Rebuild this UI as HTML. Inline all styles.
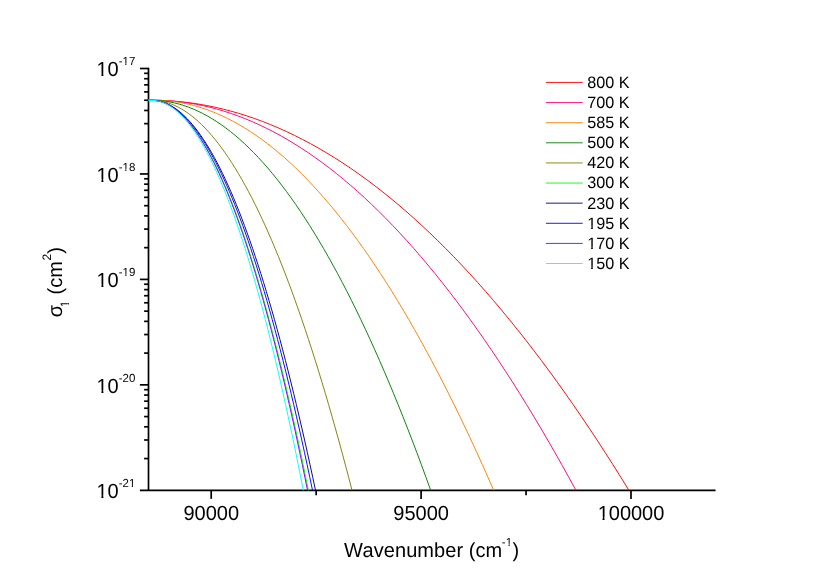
<!DOCTYPE html>
<html><head><meta charset="utf-8"><title>chart</title>
<style>
html,body{margin:0;padding:0;background:#fff;}
svg{display:block;font-family:"Liberation Sans",sans-serif;will-change:transform;}
text{text-rendering:geometricPrecision;font-kerning:none;}
</style></head><body>
<svg width="830" height="588" viewBox="0 0 830 588">
<rect width="830" height="588" fill="#fff"/>
<g fill="#000">
<text transform="translate(183.39,519.50) scale(1,1.02)" font-size="20">90000</text>
<text transform="translate(393.29,519.50) scale(1,1.02)" font-size="20">95000</text>
<text transform="translate(597.63,519.50) scale(1,1.02)" font-size="20">100000</text>
<text transform="translate(96.50,76.30) scale(1,1.02)" font-size="20">10</text>
<text transform="translate(118.65,65.40) scale(1,1.02)" font-size="11.5">-17</text>
<text transform="translate(96.50,181.75) scale(1,1.02)" font-size="20">10</text>
<text transform="translate(118.65,170.85) scale(1,1.02)" font-size="11.5">-18</text>
<text transform="translate(96.50,287.20) scale(1,1.02)" font-size="20">10</text>
<text transform="translate(118.65,276.30) scale(1,1.02)" font-size="11.5">-19</text>
<text transform="translate(96.50,392.65) scale(1,1.02)" font-size="20">10</text>
<text transform="translate(118.65,381.75) scale(1,1.02)" font-size="11.5">-20</text>
<text transform="translate(96.50,498.10) scale(1,1.02)" font-size="20">10</text>
<text transform="translate(118.65,487.20) scale(1,1.02)" font-size="11.5">-21</text>
<text transform="translate(344.10,556.70) scale(1,1.02)" font-size="20">W</text>
<text transform="translate(362.54,556.70) scale(1,1.02)" font-size="20" letter-spacing="0.06">avenumber (cm</text>
<text transform="translate(501.85,545.50) scale(1,1.02)" font-size="11.5">-1</text>
<text transform="translate(512.38,556.70) scale(1,1.02)" font-size="20">)</text>
<text transform="translate(587.20,87.85) scale(1,1.02)" font-size="16.2">800 K</text>
<text transform="translate(587.20,107.97) scale(1,1.02)" font-size="16.2">700 K</text>
<text transform="translate(587.20,128.09) scale(1,1.02)" font-size="16.2">585 K</text>
<text transform="translate(587.20,148.21) scale(1,1.02)" font-size="16.2">500 K</text>
<text transform="translate(587.20,168.33) scale(1,1.02)" font-size="16.2">420 K</text>
<text transform="translate(587.20,188.45) scale(1,1.02)" font-size="16.2">300 K</text>
<text transform="translate(587.20,208.57) scale(1,1.02)" font-size="16.2">230 K</text>
<text transform="translate(587.20,228.69) scale(1,1.02)" font-size="16.2">195 K</text>
<text transform="translate(587.20,248.81) scale(1,1.02)" font-size="16.2">170 K</text>
<text transform="translate(587.20,268.93) scale(1,1.02)" font-size="16.2">150 K</text>
</g>
<g fill="#fff">
<rect x="598.55" y="516.78" width="3.99" height="3.52"/>
<rect x="604.55" y="516.78" width="3.83" height="3.52"/>
<rect x="97.42" y="73.58" width="3.99" height="3.52"/>
<rect x="103.42" y="73.58" width="3.83" height="3.52"/>
<rect x="122.75" y="63.32" width="2.50" height="2.88"/>
<rect x="126.50" y="63.32" width="2.41" height="2.88"/>
<rect x="97.42" y="179.03" width="3.99" height="3.52"/>
<rect x="103.42" y="179.03" width="3.83" height="3.52"/>
<rect x="122.75" y="168.77" width="2.50" height="2.88"/>
<rect x="126.50" y="168.77" width="2.41" height="2.88"/>
<rect x="97.42" y="284.48" width="3.99" height="3.52"/>
<rect x="103.42" y="284.48" width="3.83" height="3.52"/>
<rect x="122.75" y="274.22" width="2.50" height="2.88"/>
<rect x="126.50" y="274.22" width="2.41" height="2.88"/>
<rect x="97.42" y="389.93" width="3.99" height="3.52"/>
<rect x="103.42" y="389.93" width="3.83" height="3.52"/>
<rect x="97.42" y="495.38" width="3.99" height="3.52"/>
<rect x="103.42" y="495.38" width="3.83" height="3.52"/>
<rect x="129.15" y="485.12" width="2.50" height="2.88"/>
<rect x="132.90" y="485.12" width="2.41" height="2.88"/>
<rect x="505.96" y="543.42" width="2.50" height="2.88"/>
<rect x="509.71" y="543.42" width="2.41" height="2.88"/>
<rect x="587.83" y="226.26" width="3.32" height="3.23"/>
<rect x="592.83" y="226.26" width="3.19" height="3.23"/>
<rect x="587.83" y="246.38" width="3.32" height="3.23"/>
<rect x="592.83" y="246.38" width="3.19" height="3.23"/>
<rect x="587.83" y="266.50" width="3.32" height="3.23"/>
<rect x="592.83" y="266.50" width="3.19" height="3.23"/>
</g>
<g transform="translate(62.4,317.2) rotate(-90)">
<g fill="#000">
<text transform="translate(0.00,0.00) scale(1,1.02)" font-size="20">σ</text>
<text transform="translate(9.84,6.80) scale(1,1.02)" font-size="12">1</text>
<text transform="translate(22.77,0.00) scale(1,1.02)" font-size="20">(cm</text>
<text transform="translate(56.69,-11.80) scale(1,1.02)" font-size="12">2</text>
<text transform="translate(63.37,0.00) scale(1,1.02)" font-size="20">)</text>
</g>
<g fill="#fff">
<rect x="10.16" y="4.69" width="2.58" height="2.91"/>
<rect x="14.04" y="4.69" width="2.49" height="2.91"/>
</g>
</g>
<g stroke="#000" stroke-width="1.7" fill="none" stroke-linecap="butt">
<path d="M148.50,67.70 V490.30"/>
<path d="M139.90,490.30 H715.56"/>
<path d="M139.90,68.50 H148.50"/>
<path d="M144.10,142.21 H148.50"/>
<path d="M144.10,123.64 H148.50"/>
<path d="M144.10,110.46 H148.50"/>
<path d="M144.10,100.24 H148.50"/>
<path d="M144.10,91.89 H148.50"/>
<path d="M144.10,84.83 H148.50"/>
<path d="M144.10,78.72 H148.50"/>
<path d="M144.10,73.33 H148.50"/>
<path d="M139.90,173.95 H148.50"/>
<path d="M144.10,247.66 H148.50"/>
<path d="M144.10,229.09 H148.50"/>
<path d="M144.10,215.91 H148.50"/>
<path d="M144.10,205.69 H148.50"/>
<path d="M144.10,197.34 H148.50"/>
<path d="M144.10,190.28 H148.50"/>
<path d="M144.10,184.17 H148.50"/>
<path d="M144.10,178.78 H148.50"/>
<path d="M139.90,279.40 H148.50"/>
<path d="M144.10,353.11 H148.50"/>
<path d="M144.10,334.54 H148.50"/>
<path d="M144.10,321.36 H148.50"/>
<path d="M144.10,311.14 H148.50"/>
<path d="M144.10,302.79 H148.50"/>
<path d="M144.10,295.73 H148.50"/>
<path d="M144.10,289.62 H148.50"/>
<path d="M144.10,284.23 H148.50"/>
<path d="M139.90,384.85 H148.50"/>
<path d="M144.10,458.56 H148.50"/>
<path d="M144.10,439.99 H148.50"/>
<path d="M144.10,426.81 H148.50"/>
<path d="M144.10,416.59 H148.50"/>
<path d="M144.10,408.24 H148.50"/>
<path d="M144.10,401.18 H148.50"/>
<path d="M144.10,395.07 H148.50"/>
<path d="M144.10,389.68 H148.50"/>
<path d="M211.20,490.30 V498.90"/>
<path d="M421.10,490.30 V498.90"/>
<path d="M631.00,490.30 V498.90"/>
<path d="M316.15,490.30 V495.30"/>
<path d="M526.05,490.30 V495.30"/>
</g>
<g fill="none" stroke-width="0.95" stroke-linejoin="round">
<path d="M148.50,100.24 L151.10,100.24 L159.06,100.35 L167.03,100.68 L174.99,101.22 L182.95,101.98 L190.92,102.95 L198.88,104.14 L206.84,105.55 L214.81,107.18 L222.77,109.02 L230.73,111.08 L238.70,113.35 L246.66,115.85 L254.62,118.55 L262.59,121.48 L270.55,124.62 L278.51,127.98 L286.48,131.56 L294.44,135.35 L302.40,139.36 L310.37,143.58 L318.33,148.03 L326.29,152.68 L334.26,157.56 L342.22,162.65 L350.18,167.96 L358.15,173.49 L366.11,179.23 L374.07,185.19 L382.04,191.37 L390.00,197.76 L397.96,204.37 L405.93,211.19 L413.89,218.24 L421.85,225.50 L429.82,232.97 L437.78,240.66 L445.74,248.57 L453.71,256.70 L461.67,265.04 L469.63,273.60 L477.60,282.38 L485.56,291.37 L493.52,300.58 L501.49,310.01 L509.45,319.65 L517.41,329.51 L525.38,339.59 L533.34,349.88 L541.30,360.39 L549.27,371.12 L557.23,382.06 L565.19,393.22 L573.16,404.60 L581.12,416.19 L589.08,428.00 L597.05,440.03 L605.01,452.27 L612.97,464.73 L620.94,477.41 L628.90,490.30" stroke="#ff0000"/>
<path d="M148.50,100.24 L153.20,100.24 L160.24,100.35 L167.29,100.68 L174.33,101.22 L181.38,101.98 L188.42,102.95 L195.47,104.14 L202.51,105.55 L209.56,107.18 L216.60,109.02 L223.65,111.08 L230.69,113.35 L237.74,115.85 L244.78,118.55 L251.83,121.48 L258.88,124.62 L265.92,127.98 L272.96,131.56 L280.01,135.35 L287.05,139.36 L294.10,143.58 L301.14,148.03 L308.19,152.68 L315.24,157.56 L322.28,162.65 L329.32,167.96 L336.37,173.49 L343.41,179.23 L350.46,185.19 L357.50,191.37 L364.55,197.76 L371.59,204.37 L378.64,211.19 L385.69,218.24 L392.73,225.50 L399.77,232.97 L406.82,240.66 L413.87,248.57 L420.91,256.70 L427.95,265.04 L435.00,273.60 L442.05,282.38 L449.09,291.37 L456.13,300.58 L463.18,310.01 L470.22,319.65 L477.27,329.51 L484.31,339.59 L491.36,349.88 L498.40,360.39 L505.45,371.12 L512.50,382.06 L519.54,393.22 L526.59,404.60 L533.63,416.19 L540.67,428.00 L547.72,440.03 L554.76,452.27 L561.81,464.73 L568.86,477.41 L575.90,490.30" stroke="#ff0080"/>
<path d="M148.50,100.24 L154.20,100.24 L159.86,100.35 L165.52,100.68 L171.17,101.22 L176.83,101.98 L182.49,102.95 L188.15,104.14 L193.81,105.55 L199.47,107.18 L205.12,109.02 L210.78,111.08 L216.44,113.35 L222.10,115.85 L227.76,118.55 L233.42,121.48 L239.07,124.62 L244.73,127.98 L250.39,131.56 L256.05,135.35 L261.71,139.36 L267.37,143.58 L273.02,148.03 L278.68,152.68 L284.34,157.56 L290.00,162.65 L295.66,167.96 L301.32,173.49 L306.98,179.23 L312.63,185.19 L318.29,191.37 L323.95,197.76 L329.61,204.37 L335.27,211.19 L340.92,218.24 L346.58,225.50 L352.24,232.97 L357.90,240.66 L363.56,248.57 L369.22,256.70 L374.88,265.04 L380.53,273.60 L386.19,282.38 L391.85,291.37 L397.51,300.58 L403.17,310.01 L408.82,319.65 L414.48,329.51 L420.14,339.59 L425.80,349.88 L431.46,360.39 L437.12,371.12 L442.77,382.06 L448.43,393.22 L454.09,404.60 L459.75,416.19 L465.41,428.00 L471.07,440.03 L476.72,452.27 L482.38,464.73 L488.04,477.41 L493.70,490.30" stroke="#ff8000"/>
<path d="M148.50,100.24 L151.30,100.24 L155.96,100.35 L160.61,100.68 L165.27,101.22 L169.93,101.98 L174.58,102.95 L179.24,104.14 L183.90,105.55 L188.55,107.18 L193.21,109.02 L197.87,111.08 L202.52,113.35 L207.18,115.85 L211.84,118.55 L216.49,121.48 L221.15,124.62 L225.81,127.98 L230.46,131.56 L235.12,135.35 L239.78,139.36 L244.43,143.58 L249.09,148.03 L253.75,152.68 L258.40,157.56 L263.06,162.65 L267.72,167.96 L272.37,173.49 L277.03,179.23 L281.69,185.19 L286.34,191.37 L291.00,197.76 L295.66,204.37 L300.31,211.19 L304.97,218.24 L309.63,225.50 L314.28,232.97 L318.94,240.66 L323.60,248.57 L328.25,256.70 L332.91,265.04 L337.57,273.60 L342.22,282.38 L346.88,291.37 L351.54,300.58 L356.19,310.01 L360.85,319.65 L365.51,329.51 L370.16,339.59 L374.82,349.88 L379.48,360.39 L384.13,371.12 L388.79,382.06 L393.45,393.22 L398.10,404.60 L402.76,416.19 L407.42,428.00 L412.07,440.03 L416.73,452.27 L421.39,464.73 L426.04,477.41 L430.70,490.30" stroke="#008000"/>
<path d="M148.50,100.24 L151.50,100.24 L154.84,100.35 L158.18,100.68 L161.53,101.22 L164.87,101.98 L168.21,102.95 L171.55,104.14 L174.89,105.55 L178.23,107.18 L181.57,109.02 L184.92,111.08 L188.26,113.35 L191.60,115.85 L194.94,118.55 L198.28,121.48 L201.62,124.62 L204.97,127.98 L208.31,131.56 L211.65,135.35 L214.99,139.36 L218.33,143.58 L221.68,148.03 L225.02,152.68 L228.36,157.56 L231.70,162.65 L235.04,167.96 L238.38,173.49 L241.72,179.23 L245.07,185.19 L248.41,191.37 L251.75,197.76 L255.09,204.37 L258.43,211.19 L261.77,218.24 L265.12,225.50 L268.46,232.97 L271.80,240.66 L275.14,248.57 L278.48,256.70 L281.82,265.04 L285.17,273.60 L288.51,282.38 L291.85,291.37 L295.19,300.58 L298.53,310.01 L301.88,319.65 L305.22,329.51 L308.56,339.59 L311.90,349.88 L315.24,360.39 L318.58,371.12 L321.93,382.06 L325.27,393.22 L328.61,404.60 L331.95,416.19 L335.29,428.00 L338.63,440.03 L341.98,452.27 L345.32,464.73 L348.66,477.41 L352.00,490.30" stroke="#808000"/>
<path d="M148.50,100.24 L151.50,100.24 L154.12,100.35 L156.73,100.68 L159.34,101.22 L161.96,101.98 L164.57,102.95 L167.19,104.14 L169.81,105.55 L172.42,107.18 L175.03,109.02 L177.65,111.08 L180.26,113.35 L182.88,115.85 L185.50,118.55 L188.11,121.48 L190.72,124.62 L193.34,127.98 L195.95,131.56 L198.57,135.35 L201.19,139.36 L203.80,143.58 L206.41,148.03 L209.03,152.68 L211.64,157.56 L214.26,162.65 L216.88,167.96 L219.49,173.49 L222.10,179.23 L224.72,185.19 L227.33,191.37 L229.95,197.76 L232.56,204.37 L235.18,211.19 L237.79,218.24 L240.41,225.50 L243.02,232.97 L245.64,240.66 L248.25,248.57 L250.87,256.70 L253.48,265.04 L256.10,273.60 L258.71,282.38 L261.33,291.37 L263.94,300.58 L266.56,310.01 L269.17,319.65 L271.79,329.51 L274.40,339.59 L277.02,349.88 L279.63,360.39 L282.25,371.12 L284.87,382.06 L287.48,393.22 L290.09,404.60 L292.71,416.19 L295.32,428.00 L297.94,440.03 L300.55,452.27 L303.17,464.73 L305.78,477.41 L308.40,490.30" stroke="#00ff00"/>
<path d="M148.50,100.24 L151.50,100.24 L154.23,100.35 L156.97,100.68 L159.70,101.22 L162.43,101.98 L165.17,102.95 L167.90,104.14 L170.63,105.55 L173.37,107.18 L176.10,109.02 L178.83,111.08 L181.57,113.35 L184.30,115.85 L187.03,118.55 L189.77,121.48 L192.50,124.62 L195.23,127.98 L197.97,131.56 L200.70,135.35 L203.43,139.36 L206.17,143.58 L208.90,148.03 L211.63,152.68 L214.37,157.56 L217.10,162.65 L219.83,167.96 L222.57,173.49 L225.30,179.23 L228.03,185.19 L230.77,191.37 L233.50,197.76 L236.23,204.37 L238.97,211.19 L241.70,218.24 L244.43,225.50 L247.17,232.97 L249.90,240.66 L252.63,248.57 L255.37,256.70 L258.10,265.04 L260.83,273.60 L263.57,282.38 L266.30,291.37 L269.03,300.58 L271.77,310.01 L274.50,319.65 L277.23,329.51 L279.97,339.59 L282.70,349.88 L285.43,360.39 L288.17,371.12 L290.90,382.06 L293.63,393.22 L296.37,404.60 L299.10,416.19 L301.83,428.00 L304.57,440.03 L307.30,452.27 L310.03,464.73 L312.77,477.41 L315.50,490.30" stroke="#000080"/>
<path d="M148.50,100.24 L151.50,100.24 L154.18,100.35 L156.87,100.68 L159.55,101.22 L162.23,101.98 L164.92,102.95 L167.60,104.14 L170.28,105.55 L172.97,107.18 L175.65,109.02 L178.33,111.08 L181.02,113.35 L183.70,115.85 L186.38,118.55 L189.07,121.48 L191.75,124.62 L194.43,127.98 L197.12,131.56 L199.80,135.35 L202.48,139.36 L205.17,143.58 L207.85,148.03 L210.53,152.68 L213.22,157.56 L215.90,162.65 L218.58,167.96 L221.27,173.49 L223.95,179.23 L226.63,185.19 L229.32,191.37 L232.00,197.76 L234.68,204.37 L237.37,211.19 L240.05,218.24 L242.73,225.50 L245.42,232.97 L248.10,240.66 L250.78,248.57 L253.47,256.70 L256.15,265.04 L258.83,273.60 L261.52,282.38 L264.20,291.37 L266.88,300.58 L269.57,310.01 L272.25,319.65 L274.93,329.51 L277.62,339.59 L280.30,349.88 L282.98,360.39 L285.67,371.12 L288.35,382.06 L291.03,393.22 L293.72,404.60 L296.40,416.19 L299.08,428.00 L301.77,440.03 L304.45,452.27 L307.13,464.73 L309.82,477.41 L312.50,490.30" stroke="#0000ff"/>
<path d="M148.50,100.24 L151.50,100.24 L154.10,100.35 L156.70,100.68 L159.30,101.22 L161.90,101.98 L164.50,102.95 L167.10,104.14 L169.70,105.55 L172.30,107.18 L174.90,109.02 L177.50,111.08 L180.10,113.35 L182.70,115.85 L185.30,118.55 L187.90,121.48 L190.50,124.62 L193.10,127.98 L195.70,131.56 L198.30,135.35 L200.90,139.36 L203.50,143.58 L206.10,148.03 L208.70,152.68 L211.30,157.56 L213.90,162.65 L216.50,167.96 L219.10,173.49 L221.70,179.23 L224.30,185.19 L226.90,191.37 L229.50,197.76 L232.10,204.37 L234.70,211.19 L237.30,218.24 L239.90,225.50 L242.50,232.97 L245.10,240.66 L247.70,248.57 L250.30,256.70 L252.90,265.04 L255.50,273.60 L258.10,282.38 L260.70,291.37 L263.30,300.58 L265.90,310.01 L268.50,319.65 L271.10,329.51 L273.70,339.59 L276.30,349.88 L278.90,360.39 L281.50,371.12 L284.10,382.06 L286.70,393.22 L289.30,404.60 L291.90,416.19 L294.50,428.00 L297.10,440.03 L299.70,452.27 L302.30,464.73 L304.90,477.41 L307.50,490.30" stroke="#8000ff"/>
<path d="M148.50,100.24 L151.50,100.24 L154.03,100.35 L156.56,100.68 L159.09,101.22 L161.62,101.98 L164.15,102.95 L166.68,104.14 L169.21,105.55 L171.74,107.18 L174.27,109.02 L176.80,111.08 L179.33,113.35 L181.86,115.85 L184.39,118.55 L186.92,121.48 L189.45,124.62 L191.98,127.98 L194.51,131.56 L197.04,135.35 L199.57,139.36 L202.10,143.58 L204.63,148.03 L207.16,152.68 L209.69,157.56 L212.22,162.65 L214.75,167.96 L217.28,173.49 L219.81,179.23 L222.34,185.19 L224.87,191.37 L227.40,197.76 L229.93,204.37 L232.46,211.19 L234.99,218.24 L237.52,225.50 L240.05,232.97 L242.58,240.66 L245.11,248.57 L247.64,256.70 L250.17,265.04 L252.70,273.60 L255.23,282.38 L257.76,291.37 L260.29,300.58 L262.82,310.01 L265.35,319.65 L267.88,329.51 L270.41,339.59 L272.94,349.88 L275.47,360.39 L278.00,371.12 L280.53,382.06 L283.06,393.22 L285.59,404.60 L288.12,416.19 L290.65,428.00 L293.18,440.03 L295.71,452.27 L298.24,464.73 L300.77,477.41 L303.30,490.30" stroke="#00ffff"/>
<path d="M148.50,100.24 H155.5" stroke="#00ffff" stroke-width="1.4"/>
</g>
<g fill="none" stroke-width="0.9">
<path d="M545.9,82.45 H582.7" stroke="#ff0000"/>
<path d="M545.9,102.57 H582.7" stroke="#ff0080"/>
<path d="M545.9,122.69 H582.7" stroke="#ff8000"/>
<path d="M545.9,142.81 H582.7" stroke="#008000"/>
<path d="M545.9,162.93 H582.7" stroke="#808000"/>
<path d="M545.9,183.05 H582.7" stroke="#00ff00"/>
<path d="M545.9,203.17 H582.7" stroke="#000080"/>
<path d="M545.9,223.29 H582.7" stroke="#0000ff"/>
<path d="M545.9,243.41 H582.7" stroke="#8000ff"/>
<path d="M545.9,263.53 H582.7" stroke="#00ffff"/>
</g>
</svg>
</body></html>
